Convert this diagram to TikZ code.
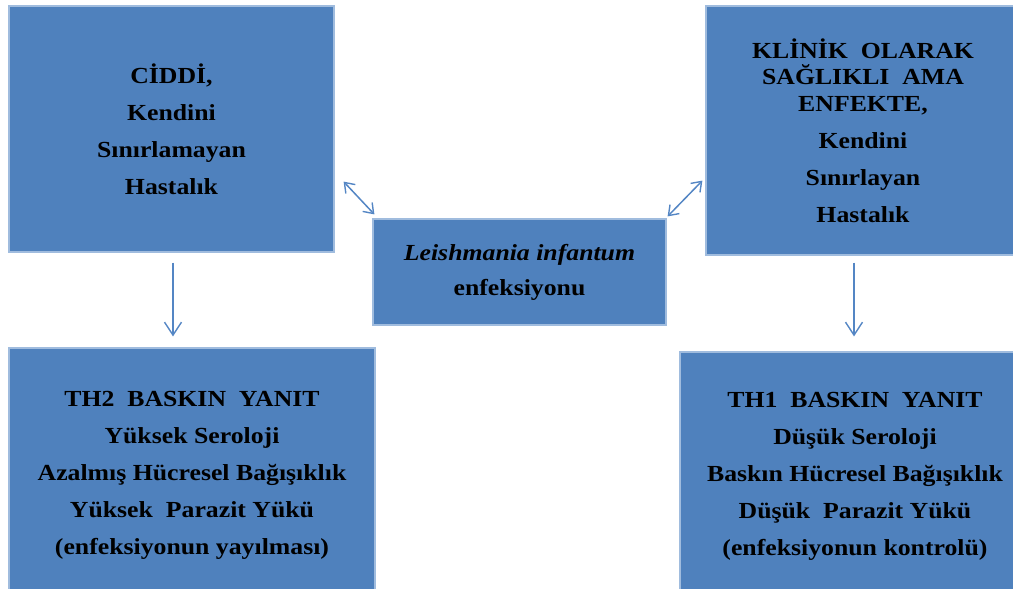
\documentclass[tikz,border=0pt]{standalone}
\usepackage{fontspec}
\setmainfont[FakeStretch=1.12]{Liberation Serif}
\usetikzlibrary{arrows.meta,calc}
\definecolor{boxfill}{RGB}{79,129,189}
\definecolor{boxline}{RGB}{160,188,222}
\definecolor{linkblue}{RGB}{84,134,196}
\begin{document}
\begin{tikzpicture}[x=1pt,y=-1pt,
  infobox/.style={rectangle, fill=boxfill, draw=boxline, line width=1.2pt,
    inner sep=0pt, align=center, text=black,
    font=\fontsize{23}{37}\selectfont\bfseries},
  link/.style={draw=linkblue, line width=1.5pt},
  tip/.style={-{Straight Barb[length=13pt,width=17pt,line width=1.4pt]}},
  twotip/.style={{Straight Barb[length=9pt,width=13pt,line width=1.4pt]}-{Straight Barb[length=9pt,width=13pt,line width=1.4pt]}}]
\useasboundingbox (0,0) rectangle (1013,589);
\clip (0,0) rectangle (1013,589);

% four outcome boxes and the central infection box
\node[infobox, minimum width=325pt, minimum height=246pt] (tl) at (171.5,129)
  {CİDDİ,\\Kendini\\Sınırlamayan\\Hastalık};
\node[infobox, minimum width=314pt, minimum height=249pt] (tr) at (863,130.5)
  {KLİNİK\ \ OLARAK\\[-10.5pt]SAĞLIKLI\ \ AMA\\[-10.5pt]ENFEKTE,\\Kendini\\Sınırlayan\\Hastalık};
\node[infobox, minimum width=293pt, minimum height=106pt] (c) at (519.5,272)
  {\textit{Leishmania infantum}\\[-2pt]enfeksiyonu};
\node[infobox, minimum width=366pt, minimum height=254pt] (bl) at (192,475)
  {TH2\ \ BASKIN\ \ YANIT\\Yüksek Seroloji\\Azalmış Hücresel Bağışıklık\\Yüksek\ \ Parazit Yükü\\(enfeksiyonun yayılması)};
\node[infobox, minimum width=350pt, minimum height=248pt] (br) at (855,476)
  {TH1\ \ BASKIN\ \ YANIT\\Düşük Seroloji\\Baskın Hücresel Bağışıklık\\Düşük\ \ Parazit Yükü\\(enfeksiyonun kontrolü)};

% two-way links to the infection box
\draw[link, twotip] ([shift={(9,-71)}]tl.south east) -- ([shift={(2,-4)}]c.north west);
\draw[link, twotip] ([shift={(1,-2)}]c.north east) -- ([shift={(-3,-75)}]tr.south west);

% downward links to the immune responses
\draw[link, tip] ($(tl.south)+(1.5,10)$) -- ($(tl.south |- bl.north)+(1.5,-11)$);
\draw[link, tip] ($(tr.south)+(-9,7)$) -- ($(tr.south |- br.north)+(-9,-15)$);
\end{tikzpicture}
\end{document}
